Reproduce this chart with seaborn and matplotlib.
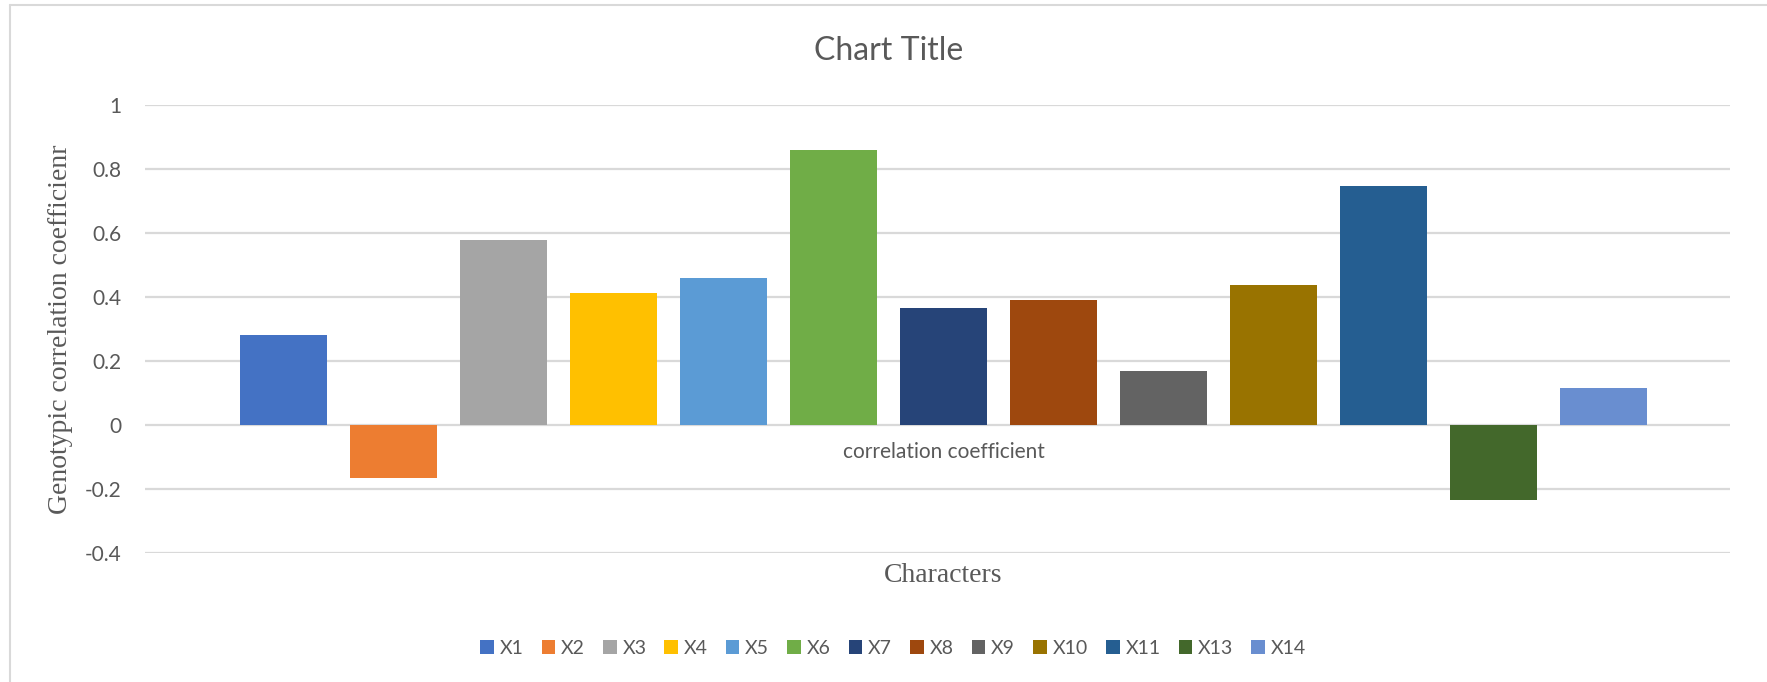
import matplotlib
matplotlib.use("Agg")
import matplotlib.pyplot as plt
import seaborn as sns
import pandas as pd
from matplotlib.lines import Line2D

# ---- data ----
categories = ["X1", "X2", "X3", "X4", "X5", "X6", "X7", "X8", "X9", "X10", "X11", "X13", "X14"]
values = [0.280, -0.167, 0.577, 0.414, 0.458, 0.859, 0.367, 0.392, 0.170, 0.439, 0.746, -0.233, 0.117]
colors = ["#4472C4", "#ED7D31", "#A5A5A5", "#FFC000", "#5B9BD5", "#70AD47", "#264478",
          "#9E480E", "#636363", "#997300", "#255E91", "#43682B", "#698ED0"]
category_label = "correlation coefficient"
y_ticks = [-0.4, -0.2, 0, 0.2, 0.4, 0.6, 0.8, 1]
y_tick_labels = ["-0.4", "-0.2", "0", "0.2", "0.4", "0.6", "0.8", "1"]
title = "Chart Title"
x_title = "Characters"
y_title = "Genotypic correlation coefficienr"

sns.set_theme(style="white")
plt.rcParams['font.family'] = ['Lato', 'DejaVu Sans']
text_color = "#595959"
grid_color = "#D9D9D9"

W, H = 1767, 682
fig = plt.figure(figsize=(W / 100, H / 100), dpi=100)
ax_l, ax_r, ax_t, ax_b = 145, 1730, 105, 553
ax = fig.add_axes([ax_l / W, 1 - ax_b / H, (ax_r - ax_l) / W, (ax_b - ax_t) / H])

df = pd.DataFrame({"cat": categories, "val": values})
sns.barplot(data=df, x="cat", y="val", hue="cat", palette=colors, order=categories,
            hue_order=categories, dodge=False, width=0.79, saturation=1, legend=True, ax=ax,
            linewidth=0)

handles = ax.legend_.legend_handles
labels = [t.get_text() for t in ax.legend_.texts]
ax.legend_.remove()

ax.set_xlim(-1.255, 13.145)
ax.set_ylim(-0.4, 1.0)
ax.set_yticks(y_ticks)
ax.set_yticklabels(y_tick_labels)
ax.yaxis.grid(True, color=grid_color, lw=1.6)
ax.set_axisbelow(True)
for s in ax.spines.values():
    s.set_visible(False)
ax.spines['bottom'].set_position(('data', 0))
ax.set_xticks([(len(categories) - 1) / 2])
ax.set_xticklabels([category_label])
ax.tick_params(axis='x', length=0, pad=12, labelsize=15, labelcolor=text_color)
ax.tick_params(axis='y', length=0, pad=17, labelsize=15, labelcolor=text_color)

ax.set_ylabel(y_title, family=['Liberation Serif'], fontsize=20, color=text_color, va='center')
ax.yaxis.set_label_coords((61 - ax_l) / (ax_r - ax_l), 0.5)
ax.set_xlabel(x_title, family=['Liberation Serif'], fontsize=20, color=text_color, va='center')
ax.xaxis.set_label_coords((943 - ax_l) / (ax_r - ax_l), (ax_b - 576) / (ax_b - ax_t))

fig.text(889 / W, 1 - 51 / H, title, ha='center', va='center', fontsize=23, color=text_color)

fig.legend(handles, labels, loc='center', bbox_to_anchor=(893 / W, 1 - 648 / H), ncol=len(categories),
           frameon=False, handlelength=0.7, handleheight=0.7, handletextpad=0.3,
           columnspacing=0.93, fontsize=14, labelcolor=text_color)

# chart frame
fig.add_artist(Line2D([10 / W, 10 / W], [0, 1 - 5 / H], color=grid_color, lw=1.5, transform=fig.transFigure))
fig.add_artist(Line2D([10 / W, 1], [1 - 5 / H, 1 - 5 / H], color=grid_color, lw=1.5, transform=fig.transFigure))

fig.savefig("out.png", dpi=100, facecolor="white")
